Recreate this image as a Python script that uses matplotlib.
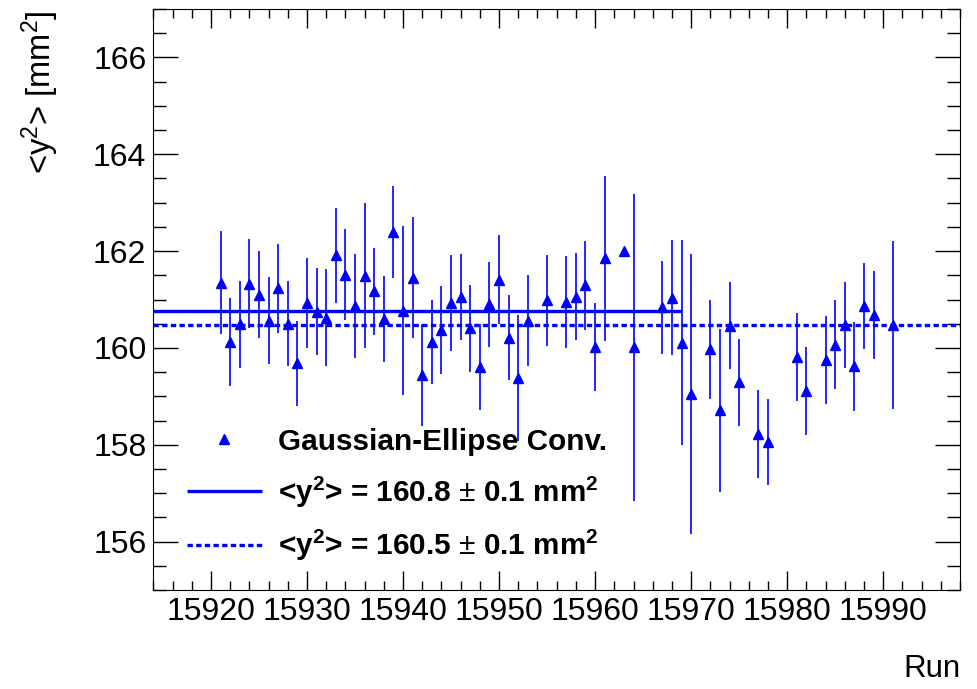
import matplotlib
matplotlib.use("Agg")
import matplotlib.pyplot as plt
from matplotlib.ticker import MultipleLocator

plt.rcParams['font.family'] = ['Liberation Sans', 'DejaVu Sans']
plt.rcParams['mathtext.fontset'] = 'custom'
plt.rcParams['mathtext.rm'] = 'Liberation Sans'
plt.rcParams['mathtext.it'] = 'Liberation Sans:italic'
plt.rcParams['mathtext.bf'] = 'Liberation Sans:bold'

# run numbers and <y^2> per run (mm^2)
runs = [15921, 15922, 15923, 15924, 15925, 15926, 15927, 15928, 15929, 15930,
        15931, 15932, 15933, 15934, 15935, 15936, 15937, 15938, 15939, 15940,
        15941, 15942, 15943, 15944, 15945, 15946, 15947, 15948, 15949, 15950,
        15951, 15952, 15953, 15955, 15957, 15958, 15959, 15960, 15961, 15963,
        15964, 15967, 15968, 15969, 15970, 15972, 15973, 15974, 15975, 15977,
        15978, 15981, 15982, 15984, 15985, 15986, 15987, 15988, 15989, 15991]
y2 = [161.35, 160.13, 160.49, 161.33, 161.10, 160.56, 161.23, 160.50, 159.68, 160.93,
      160.75, 160.62, 161.91, 161.51, 160.87, 161.49, 161.17, 160.59, 162.40, 160.77,
      161.45, 159.44, 160.12, 160.37, 160.93, 161.05, 160.41, 159.60, 160.90, 161.41,
      160.21, 159.38, 160.56, 160.98, 160.94, 161.06, 161.29, 160.02, 161.85, 162.00,
      160.01, 160.84, 161.04, 160.11, 159.05, 159.97, 158.71, 160.46, 159.29, 158.23,
      158.05, 159.81, 159.11, 159.75, 160.07, 160.47, 159.62, 160.87, 160.68, 160.47]
y2_err = [1.06, 0.91, 0.90, 0.91, 0.90, 0.90, 0.92, 0.88, 0.88, 0.93,
          0.90, 1.00, 0.99, 0.94, 1.07, 1.50, 0.90, 0.89, 0.95, 1.74,
          1.25, 1.05, 0.87, 0.91, 0.99, 0.89, 0.90, 0.89, 0.88, 0.92,
          0.88, 1.31, 0.94, 0.94, 0.95, 0.90, 0.92, 0.90, 1.70, 0.00,
          3.17, 0.96, 1.19, 2.12, 2.90, 1.03, 1.69, 0.90, 0.90, 0.91,
          0.89, 0.91, 0.90, 0.90, 0.92, 0.89, 0.92, 0.89, 0.90, 1.73]

# constant fits
fit_means = [160.76, 160.48]
fit_start = [15914, 15914]
fit_end = [15968.9, 15998]
fit_labels = [r'<y$^{\mathbf{2}}$> = 160.8 $\pm$ 0.1 mm$^{\mathbf{2}}$',
              r'<y$^{\mathbf{2}}$> = 160.5 $\pm$ 0.1 mm$^{\mathbf{2}}$']

fig, ax = plt.subplots(figsize=(9.78, 6.89), dpi=100)
fig.subplots_adjust(left=0.1568, right=0.9816, bottom=0.1437, top=0.9869)

ax.errorbar(runs, y2, yerr=y2_err, fmt='none', ecolor='blue', elinewidth=1.2,
            capsize=0, zorder=3)
ax.plot(runs, y2, '^', color='blue', ms=6.5, zorder=4,
        label='Gaussian-Ellipse Conv.')
ax.plot([fit_start[0], fit_end[0]], [fit_means[0]] * 2, color='blue', lw=2.4,
        solid_capstyle='butt', zorder=2, label=fit_labels[0])
ax.plot([fit_start[1], fit_end[1]], [fit_means[1]] * 2, color='blue', lw=2.4,
        linestyle=(0, (1.6, 1.0)), zorder=2, label=fit_labels[1])

ax.set_xlim(15914, 15998)
ax.set_ylim(155, 167)
ax.xaxis.set_major_locator(MultipleLocator(10))
ax.xaxis.set_minor_locator(MultipleLocator(2))
ax.yaxis.set_major_locator(MultipleLocator(2))
ax.yaxis.set_minor_locator(MultipleLocator(0.5))
ax.ticklabel_format(useOffset=False)

ax.tick_params(which='both', direction='in', top=True, right=True, width=1,
               labelsize=23)
ax.tick_params(axis='x', which='major', length=13.5, pad=5)
ax.tick_params(axis='x', which='minor', length=6.7)
ax.tick_params(axis='y', which='major', length=18, pad=5)
ax.tick_params(axis='y', which='minor', length=9.2)

ax.set_ylabel(r'<y$^{2}$> [mm$^{2}$]', fontsize=23.5, loc='top')
ax.yaxis.set_label_coords(-0.114, 0.998)
ax.set_xlabel('Run', fontsize=22.5, loc='right')
ax.xaxis.set_label_coords(1.0, -0.11)

ax.legend(loc='upper left', bbox_to_anchor=(0.042, 0.279), frameon=False,
          prop={'weight': 'bold', 'size': 21.4}, handlelength=2.5,
          handletextpad=0.55, labelspacing=0.62, borderpad=0, borderaxespad=0,
          numpoints=1)

fig.savefig('out.png', dpi=100)
